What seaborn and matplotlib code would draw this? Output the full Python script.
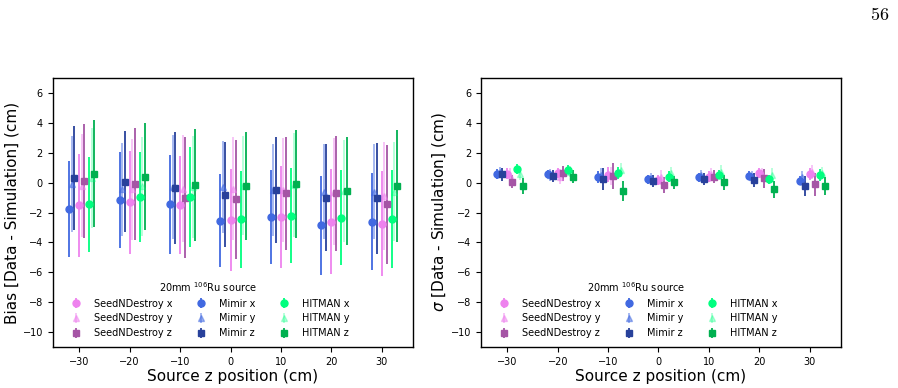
import numpy as np
import pandas as pd
import matplotlib
matplotlib.use("Agg")
import matplotlib.pyplot as plt
import seaborn as sns

# source positions (cm)
z_pos = [-30, -20, -10, 0, 10, 20, 30]

# bias [data - simulation] (cm)
bias_snd_x = [-1.5, -1.3, -1.5, -2.5, -2.3, -2.6, -2.75]
bias_snd_x_err = [3.45, 3.45, 3.3, 3.4, 3.4, 3.5, 3.5]
bias_snd_y = [-0.2, -0.45, -0.4, -0.4, -0.5, -0.6, -0.9]
bias_snd_y_err = [3.45, 3.4, 3.6, 3.45, 3.5, 3.6, 3.6]
bias_snd_z = [0.1, -0.07, -1.0, -1.12, -0.72, -0.72, -1.45]
bias_snd_z_err = [3.8, 3.75, 4.05, 4.0, 3.8, 3.85, 4.0]
bias_mim_x = [-1.75, -1.15, -1.45, -2.55, -2.3, -2.85, -2.6]
bias_mim_x_err = [3.2, 3.2, 3.3, 3.1, 3.15, 3.3, 3.25]
bias_mim_y = [-0.1, -0.45, -0.3, -0.3, -0.5, -0.6, -0.6]
bias_mim_y_err = [3.2, 3.1, 3.5, 3.1, 3.1, 3.2, 3.2]
bias_mim_z = [0.3, 0.07, -0.33, -0.8, -0.5, -1.0, -1.05]
bias_mim_z_err = [3.5, 3.4, 3.75, 3.5, 3.55, 3.56, 3.7]
bias_hit_x = [-1.45, -0.96, -0.98, -2.46, -2.2, -2.34, -2.42]
bias_hit_x_err = [3.2, 3.0, 3.35, 3.24, 3.2, 3.2, 3.3]
bias_hit_y = [0.3, -0.25, -0.3, -0.2, -0.15, -0.55, -0.6]
bias_hit_y_err = [3.35, 3.3, 3.4, 3.3, 3.5, 3.4, 3.3]
bias_hit_z = [0.6, 0.4, -0.13, -0.24, -0.1, -0.57, -0.24]
bias_hit_z_err = [3.57, 3.58, 3.75, 3.6, 3.6, 3.6, 3.76]

# sigma [data - simulation] (cm)
sig_snd_x = [0.6, 0.63, 0.52, 0.18, 0.4, 0.63, 0.56]
sig_snd_x_err = [0.35, 0.35, 0.5, 0.35, 0.35, 0.35, 0.4]
sig_snd_y = [0.5, 0.4, 0.45, 0.35, 0.55, 0.6, 0.7]
sig_snd_y_err = [0.45, 0.5, 0.6, 0.5, 0.45, 0.4, 0.45]
sig_snd_z = [0.07, 0.63, 0.45, -0.15, 0.4, 0.29, -0.11]
sig_snd_z_err = [0.45, 0.5, 0.9, 0.55, 0.45, 0.65, 0.75]
sig_mim_x = [0.58, 0.58, 0.41, 0.23, 0.36, 0.46, 0.14]
sig_mim_x_err = [0.35, 0.3, 0.4, 0.3, 0.3, 0.3, 0.3]
sig_mim_y = [0.7, 0.5, 0.5, 0.3, 0.5, 0.4, 0.4]
sig_mim_y_err = [0.35, 0.4, 0.5, 0.35, 0.35, 0.4, 0.4]
sig_mim_z = [0.56, 0.43, 0.25, 0.14, 0.23, 0.18, -0.22]
sig_mim_z_err = [0.45, 0.4, 0.75, 0.4, 0.4, 0.45, 0.7]
sig_hit_x = [0.9, 0.85, 0.63, 0.41, 0.52, 0.23, 0.52]
sig_hit_x_err = [0.35, 0.3, 0.4, 0.35, 0.3, 0.3, 0.4]
sig_hit_y = [0.58, 0.74, 0.85, 0.63, 0.74, 0.52, 0.63]
sig_hit_y_err = [0.4, 0.35, 0.5, 0.4, 0.45, 0.45, 0.4]
sig_hit_z = [-0.22, 0.4, -0.56, 0.02, 0.02, -0.45, -0.22]
sig_hit_z_err = [0.55, 0.45, 0.7, 0.45, 0.5, 0.55, 0.6]

tools = ["SeedNDestroy", "Mimir", "HITMAN"]
comps = ["x", "y", "z"]

sns.set_theme(style="ticks", rc={"xtick.major.size": 3.5, "ytick.major.size": 3.5,
                                 "axes.edgecolor": "black", "xtick.color": "black",
                                 "ytick.color": "black", "text.color": "black",
                                 "axes.labelcolor": "black", "axes.linewidth": 1.0})
plt.rcParams["font.family"] = ["DejaVu Sans"]
plt.rcParams["mathtext.fontset"] = "dejavusans"

bias = {
    ("SeedNDestroy", "x"): (bias_snd_x, bias_snd_x_err),
    ("SeedNDestroy", "y"): (bias_snd_y, bias_snd_y_err),
    ("SeedNDestroy", "z"): (bias_snd_z, bias_snd_z_err),
    ("Mimir", "x"): (bias_mim_x, bias_mim_x_err),
    ("Mimir", "y"): (bias_mim_y, bias_mim_y_err),
    ("Mimir", "z"): (bias_mim_z, bias_mim_z_err),
    ("HITMAN", "x"): (bias_hit_x, bias_hit_x_err),
    ("HITMAN", "y"): (bias_hit_y, bias_hit_y_err),
    ("HITMAN", "z"): (bias_hit_z, bias_hit_z_err),
}
sigma = {
    ("SeedNDestroy", "x"): (sig_snd_x, sig_snd_x_err),
    ("SeedNDestroy", "y"): (sig_snd_y, sig_snd_y_err),
    ("SeedNDestroy", "z"): (sig_snd_z, sig_snd_z_err),
    ("Mimir", "x"): (sig_mim_x, sig_mim_x_err),
    ("Mimir", "y"): (sig_mim_y, sig_mim_y_err),
    ("Mimir", "z"): (sig_mim_z, sig_mim_z_err),
    ("HITMAN", "x"): (sig_hit_x, sig_hit_x_err),
    ("HITMAN", "y"): (sig_hit_y, sig_hit_y_err),
    ("HITMAN", "z"): (sig_hit_z, sig_hit_z_err),
}

colors = {
    ("SeedNDestroy", "x"): ("violet", 1.0),
    ("SeedNDestroy", "y"): ("violet", 0.5),
    ("SeedNDestroy", "z"): ("#A555A5", 1.0),
    ("Mimir", "x"): ("royalblue", 1.0),
    ("Mimir", "y"): ("royalblue", 0.5),
    ("Mimir", "z"): ("#28419B", 1.0),
    ("HITMAN", "x"): ("springgreen", 1.0),
    ("HITMAN", "y"): ("springgreen", 0.3),
    ("HITMAN", "z"): ("#00B050", 1.0),
}
markers = {"x": "o", "y": "^", "z": "s"}
tool_shift = {"SeedNDestroy": 0.0, "Mimir": -2.0, "HITMAN": 2.0}
comp_shift = {"x": 0.0, "y": 0.5, "z": 1.0}


def to_frame(d):
    rows = []
    for (t, c), (vals, errs) in d.items():
        for z, v, e in zip(z_pos, vals, errs):
            rows.append({"tool": t, "comp": c, "z": z, "val": v, "err": e})
    return pd.DataFrame(rows)


fig = plt.figure(figsize=(8.98, 3.88), dpi=100)
ax1 = fig.add_axes([0.0587, 0.1057, 0.4016, 0.693])
ax2 = fig.add_axes([0.5356, 0.1057, 0.4010, 0.693])

for ax, d, ylab in [(ax1, bias, "Bias [Data - Simulation] (cm)"),
                    (ax2, sigma, r"$\sigma$ [Data - Simulation] (cm)")]:
    df = to_frame(d)
    for t in tools:
        for c in comps:
            sub = df[(df.tool == t) & (df.comp == c)]
            col, a = colors[(t, c)]
            xs = sub.z + tool_shift[t] + comp_shift[c]
            ax.errorbar(xs, sub.val, yerr=sub.err, fmt=markers[c], color=col,
                        alpha=a, ms=5, elinewidth=1.3, capsize=0,
                        label=f"{t} {c}")
    ax.set_ylim(-11, 7)
    ax.set_yticks(np.arange(-10, 7, 2))
    ax.set_xticks([-30, -20, -10, 0, 10, 20, 30])
    ax.tick_params(labelsize=7, width=0.8)
    ax.set_xlabel("Source z position (cm)", fontsize=11, labelpad=2)
    ax.set_ylabel(ylab, fontsize=11, labelpad=2)
    ax.legend(ncol=3, fontsize=7, frameon=False, loc="lower center",
              bbox_to_anchor=(0.43, 0.0), title=r"20mm $^{106}$Ru source",
              title_fontsize=7)

fig.text(0.98, 0.961, r"$\mathrm{56}$", fontsize=13, ha="center", va="center",
         math_fontfamily="cm")

fig.savefig("out.png", dpi=100)
